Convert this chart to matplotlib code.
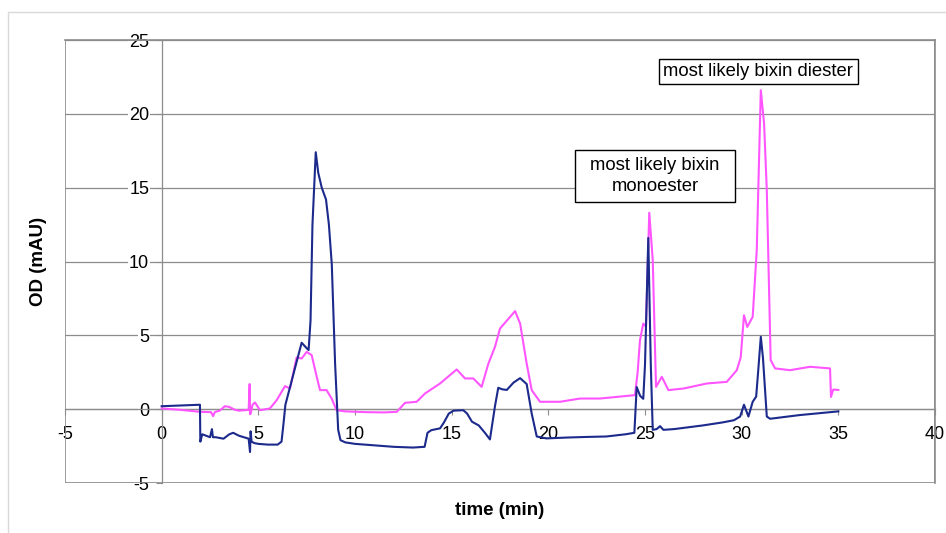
import matplotlib
matplotlib.use("Agg")
import matplotlib.pyplot as plt
from matplotlib.patches import Rectangle

plt.rcParams['font.family'] = ['Liberation Sans', 'DejaVu Sans']
plt.rcParams['axes.unicode_minus'] = False

# ---- data ----
blue_t = [0, 1.0, 1.98, 2.0, 2.1, 2.5, 2.6, 2.65, 2.8, 3.2, 3.5, 3.7, 4.0, 4.5, 4.57, 4.6,
          4.65, 4.8, 5.0, 5.5, 6.0, 6.2, 6.3, 6.4, 6.7, 7.0, 7.24, 7.45, 7.6, 7.7, 7.8, 7.97,
          8.1, 8.28, 8.5, 8.65, 8.8, 8.97, 9.13, 9.25, 9.5, 10.0, 11.0, 12.0, 13.0, 13.6,
          13.75, 13.95, 14.4, 14.6, 14.85, 15.1, 15.6, 15.8, 16.05, 16.4, 16.72, 16.98,
          17.24, 17.41, 17.6, 17.85, 18.2, 18.54, 18.88, 19.14, 19.4, 19.9, 21.0, 22.0,
          23.0, 24.0, 24.45, 24.57, 24.75, 24.91, 25.0, 25.17, 25.3, 25.4, 25.6, 25.78,
          25.95, 26.5, 28.0, 29.0, 29.6, 29.92, 30.12, 30.35, 30.57, 30.75, 30.85, 30.99,
          31.1, 31.3, 31.47, 33.0, 35.0]
blue_od = [0.2, 0.25, 0.3, -2.2, -1.7, -1.9, -1.35, -1.9, -1.9, -2.0, -1.7, -1.6, -1.8,
           -2.0, -2.9, -1.5, -2.2, -2.3, -2.35, -2.4, -2.4, -2.2, -1.0, 0.3, 1.8, 3.3, 4.5,
           4.2, 4.0, 6.0, 12.5, 17.4, 16.0, 15.0, 14.2, 12.5, 9.8, 3.1, -1.4, -2.1, -2.25,
           -2.35, -2.45, -2.55, -2.6, -2.55, -1.6, -1.42, -1.3, -0.9, -0.3, -0.1, -0.07,
           -0.3, -0.85, -1.1, -1.6, -2.05, 0.2, 1.45, 1.35, 1.3, 1.8, 2.1, 1.7, -0.3,
           -1.85, -1.98, -1.92, -1.88, -1.85, -1.7, -1.6, 1.5, 0.9, 0.7, 3.0, 11.6, 3.0,
           -1.4, -1.35, -1.15, -1.4, -1.35, -1.1, -0.9, -0.75, -0.5, 0.3, -0.5, 0.5, 0.85,
           2.5, 4.9, 3.5, -0.5, -0.65, -0.4, -0.15]

pink_t = [0, 1.0, 2.0, 2.55, 2.66, 2.75, 3.0, 3.27, 3.5, 3.8, 4.0, 4.5, 4.55, 4.57, 4.6,
          4.7, 4.83, 5.0, 5.09, 5.6, 5.95, 6.38, 6.64, 6.98, 7.24, 7.5, 7.76, 8.02, 8.19,
          8.53, 8.79, 9.05, 9.5, 10.5, 11.5, 12.16, 12.59, 13.19, 13.62, 14.4, 15.26,
          15.69, 16.12, 16.55, 16.9, 17.24, 17.5, 18.28, 18.54, 18.88, 19.14, 19.57, 20.6,
          21.64, 22.67, 24.48, 24.62, 24.74, 24.91, 25.05, 25.22, 25.4, 25.57, 25.87,
          26.21, 27.0, 28.2, 29.23, 29.75, 29.95, 30.12, 30.29, 30.57, 30.78, 30.99, 31.16,
          31.3, 31.5, 31.73, 32.5, 33.54, 34.57, 34.62, 34.74, 35.0]
pink_od = [0.05, -0.05, -0.18, -0.2, -0.47, -0.2, -0.1, 0.2, 0.15, -0.05, -0.1, -0.05,
           1.7, -0.34, -0.3, 0.3, 0.45, 0.1, -0.07, 0.05, 0.61, 1.56, 1.4, 3.5, 3.43, 3.88,
           3.66, 2.19, 1.29, 1.29, 0.72, -0.07, -0.15, -0.2, -0.22, -0.18, 0.43, 0.5, 1.06,
           1.74, 2.69, 2.08, 2.08, 1.51, 3.09, 4.22, 5.46, 6.64, 5.8, 3.09, 1.29, 0.5, 0.5,
           0.72, 0.72, 0.95, 2.5, 4.67, 5.8, 5.6, 13.3, 10.1, 1.51, 2.19, 1.29, 1.4, 1.74,
           1.85, 2.64, 3.5, 6.36, 5.57, 6.25, 10.77, 21.6, 19.34, 14.83, 3.32, 2.76, 2.64,
           2.87, 2.76, 0.83, 1.33, 1.3]

x_ticks = [-5, 0, 5, 10, 15, 20, 25, 30, 35, 40]
y_ticks = [-5, 0, 5, 10, 15, 20, 25]

# ---- figure ----
W, H = 946, 533
fig = plt.figure(figsize=(W / 100, H / 100), dpi=100)
ax = fig.add_axes([65 / W, 1 - 483 / H, 870 / W, 443 / H])

# outer chart border
fig.patches.append(Rectangle((8 / W, -0.05), 1.2, 1 - 12 / H + 0.05,
                             transform=fig.transFigure, fill=False,
                             edgecolor='#d9d9d9', lw=1.0))

grid_c = '#8c8c8c'
ax.set_xlim(-5, 40)
ax.set_ylim(-5, 25)
ax.set_xticks(x_ticks)
ax.set_yticks(y_ticks)
for y in y_ticks:
    ax.axhline(y, color=grid_c, lw=0.9, zorder=1)

ax.spines['left'].set_position(('data', 0))
ax.spines['bottom'].set_position(('data', 0))
for s in ['top', 'right']:
    ax.spines[s].set_color(grid_c)
    ax.spines[s].set_linewidth(1.2)
ax.spines['left'].set_color(grid_c)
ax.spines['bottom'].set_color(grid_c)
ax.spines['left'].set_linewidth(0.9)
ax.spines['bottom'].set_linewidth(0.9)
ax.add_patch(Rectangle((0, 0), 1, 1, transform=ax.transAxes, fill=False,
                       edgecolor=grid_c, lw=1.2, zorder=5))

ax.tick_params(axis='both', direction='out', length=4, color=grid_c,
               labelsize=13, labelcolor='black')
ax.tick_params(axis='y', pad=5)
ax.tick_params(axis='x', pad=8)
for lab in ax.get_yticklabels():
    lab.set_bbox(dict(facecolor='white', edgecolor='none', pad=0.5))

ax.plot(pink_t, pink_od, color='#ff55ff', lw=1.5, zorder=3,
        solid_joinstyle='round')
ax.plot(blue_t, blue_od, color='#1c2a8c', lw=1.5, zorder=4,
        solid_joinstyle='round')

ax.set_ylabel('OD (mAU)', fontsize=13.5, fontweight='bold')
ax.set_xlabel('time (min)', fontsize=13.5, fontweight='bold')
ax.yaxis.set_label_coords(-0.021, 0.5)
ax.xaxis.set_label_coords(0.5, -0.042)

# annotation boxes
ax.add_patch(Rectangle((21.38, 14.01), 29.66 - 21.38, 17.54 - 14.01,
                       facecolor='white', edgecolor='black', lw=1.0, zorder=6))
ax.text(25.52, 15.8, 'most likely bixin\nmonoester', ha='center', va='center',
        fontsize=13.3, multialignment='center', linespacing=1.3, zorder=7)
ax.add_patch(Rectangle((25.73, 22.05), 36.0 - 25.73, 23.74 - 22.05,
                       facecolor='white', edgecolor='black', lw=1.0, zorder=6))
ax.text(30.86, 22.9, 'most likely bixin diester', ha='center', va='center',
        fontsize=13.3, zorder=7)

fig.savefig('out.png', dpi=100)
